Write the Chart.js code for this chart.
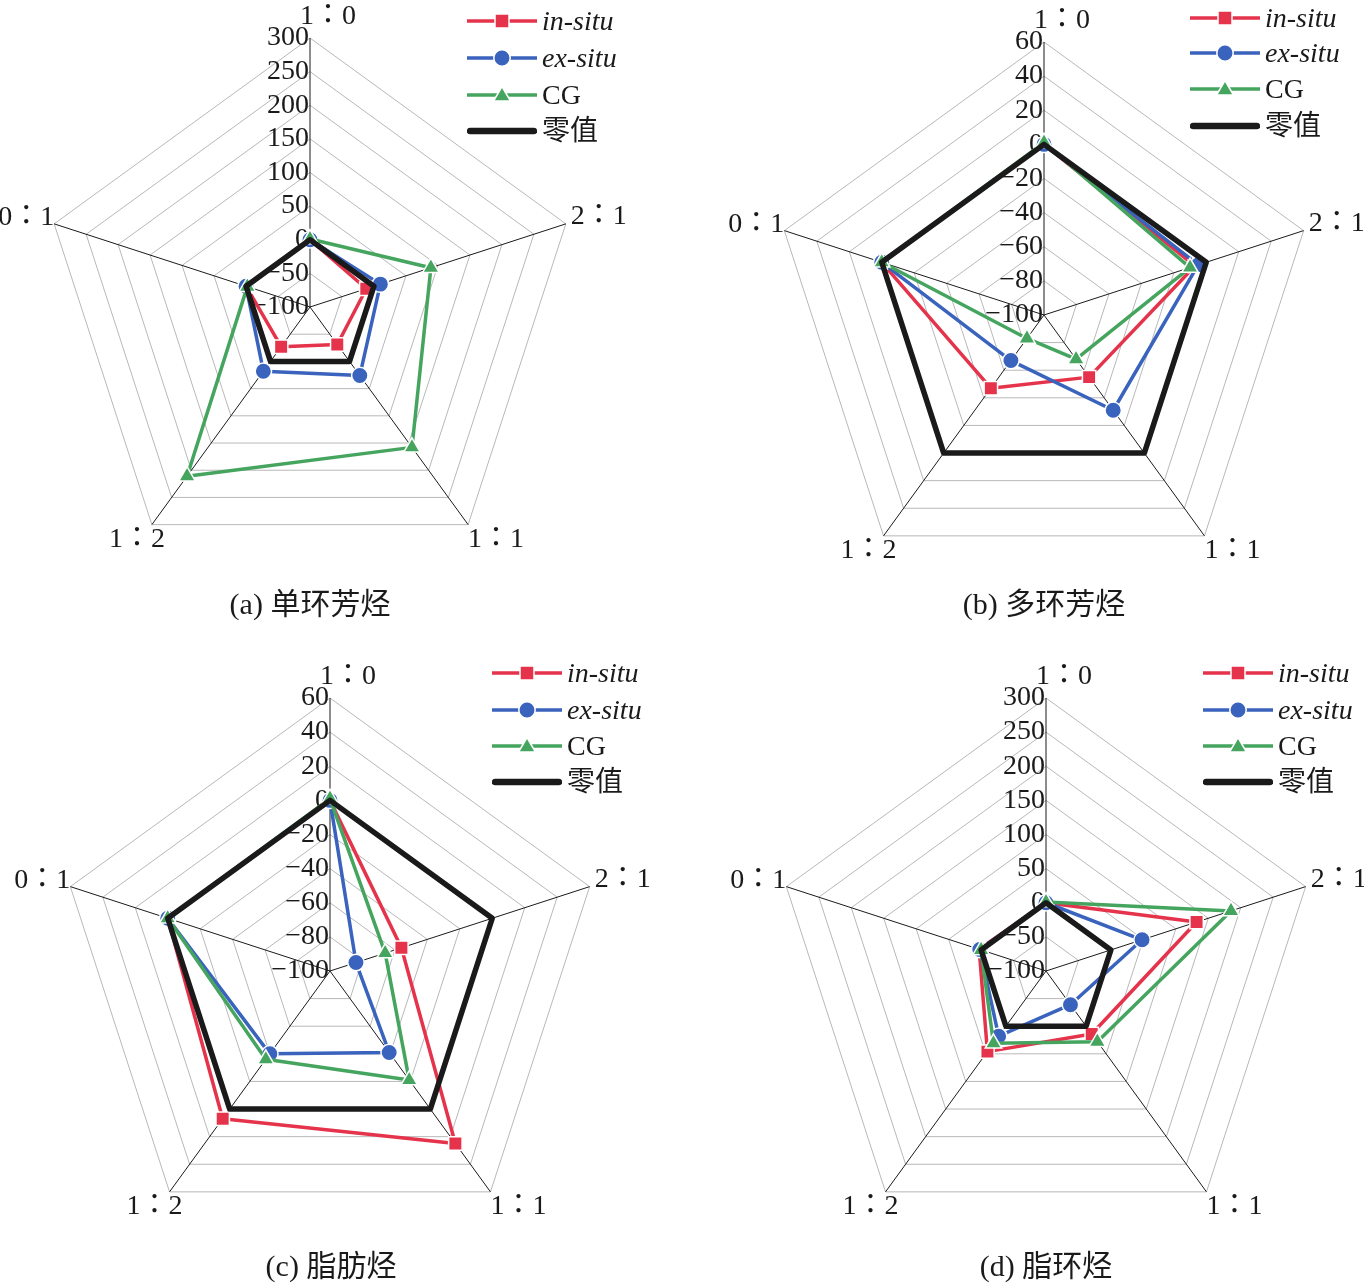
<!DOCTYPE html>
<html>
<head>
<meta charset="utf-8">
<script src="https://cdn.jsdelivr.net/npm/chart.js@4/dist/chart.umd.min.js"></script>
<style>
  html, body { margin:0; padding:0; background:#fff; }
  body { width:1364px; height:1284px; position:relative; overflow:hidden;
         font-family:'Liberation Serif','Noto Sans CJK SC',serif; color:#1a1a1a; }
  canvas.rc { position:absolute; }
  .leg { position:absolute; height:36px; line-height:36px; font-size:28px; white-space:nowrap; }
  .leg svg { position:absolute; left:0; top:8px; }
  .leg span { position:absolute; top:0; }
  .cap { position:absolute; font-size:30px; line-height:40px; white-space:nowrap; transform:translateX(-50%); }
</style>
</head>
<body>
<script>
// ---------- data ----------
const categories = ['1：0', '2：1', '1：1', '1：2', '0：1'];
const seriesNames = ['in-situ', 'ex-situ', 'CG', '零值'];
const captions = ['(a) 单环芳烃', '(b) 多环芳烃', '(c) 脂肪烃', '(d) 脂环烃'];

// (a) 单环芳烃
const aInSitu = [0, -12, -31, -27, 0];
const aExSitu = [0, 10, 26, 18, 0];
const aCG     = [1, 89, 158, 211, -2];
const aZero   = [0, 0, 0, 0, 0];
// (b) 多环芳烃
const bInSitu = [0, -7, -55, -47, 0];
const bExSitu = [0, -5, -31, -67, 0];
const bCG     = [1, -10, -68, -83, 0];
const bZero   = [0, 0, 0, 0, 0];
// (c) 脂肪烃
const cInSitu = [0, -56, 25, 7, 0];
const cExSitu = [0, -84, -41, -40, 0];
const cCG     = [1, -66, -21, -36, 0];
const cZero   = [0, 0, 0, 0, 0];
// (d) 脂环烃
const dInSitu = [0, 132, 14, 46, 3];
const dExSitu = [0, 48, -39, 18, 2];
const dCG     = [1, 185, 28, 31, 0];
const dZero   = [0, 0, 0, 0, 0];

// tick labels
const ticks300 = ['−100', '−50', '0', '50', '100', '150', '200', '250', '300'];
const ticks60  = ['−100', '−80', '−60', '−40', '−20', '0', '20', '40', '60'];
const range300 = [-100, 300, 50];
const range60  = [-100, 60, 20];

// ---------- styles / layout ----------
const RED = '#e5334b', BLUE = '#3a63be', GREEN = '#45a55f', BLACK = '#1a1a1a';
const FONT = '"Liberation Serif", "Noto Sans CJK SC", serif';
const LABEL_FONT = '"Liberation Serif", "Noto Sans CJK TC", serif';

const panels = [
  { left:0,   top:0,   pad:{left:41, top:38, right:103, bottom:66},
    data:[aInSitu, aExSitu, aCG, aZero], ticks:ticks300, range:range300,
    legX:467, legTextX:542, legY:[21, 58, 95, 131], capX:310, capY:584 },
  { left:682, top:0,   pad:{left:89, top:42, right:47, bottom:54},
    data:[bInSitu, bExSitu, bCG, bZero], ticks:ticks60, range:range60,
    legX:1190, legTextX:1265, legY:[18, 53, 89, 126], capX:1044, capY:584 },
  { left:0,   top:642, pad:{left:57, top:56, right:79, bottom:40},
    data:[cInSitu, cExSitu, cCG, cZero], ticks:ticks60, range:range60,
    legX:492, legTextX:567, legY:[673, 710, 746, 782], capX:331, capY:1246 },
  { left:682, top:642, pad:{left:91, top:56, right:45, bottom:40},
    data:[dInSitu, dExSitu, dCG, dZero], ticks:ticks300, range:range300,
    legX:1203, legTextX:1278, legY:[673, 710, 746, 782], capX:1046, capY:1246 }
];

const labelOffsets = [
  { align:'center', dx:18, dy:-21 },
  { align:'left',   dx:5,  dy:-7 },
  { align:'center', dx:28, dy:15 },
  { align:'center', dx:-15, dy:15 },
  { align:'right',  dx:0,  dy:-6 }
];

const tickPlugin = {
  id: 'tickText',
  beforeDatasetsDraw(chart, args, opts) {
    const s = chart.scales.r, ctx = chart.ctx;
    ctx.save();
    ctx.font = '28px ' + FONT;
    ctx.fillStyle = BLACK;
    ctx.textAlign = 'right';
    ctx.textBaseline = 'middle';
    s.ticks.forEach((t, i) => {
      const d = s.getDistanceFromCenterForValue(t.value);
      ctx.fillText(opts.labels[i] !== undefined ? opts.labels[i] : t.label, s.xCenter - 1, s.yCenter - d);
    });
    ctx.restore();
  },
  afterDraw(chart) {
    const s = chart.scales.r, ctx = chart.ctx;
    ctx.save();
    ctx.font = '28px ' + LABEL_FONT;
    ctx.fillStyle = BLACK;
    ctx.textBaseline = 'middle';
    chart.data.labels.forEach((c, i) => {
      const p = s.getPointPosition(i, s.drawingArea);
      const o = labelOffsets[i];
      ctx.textAlign = o.align;
      ctx.fillText(c, p.x + o.dx, p.y + o.dy);
    });
    ctx.restore();
  }
};

function dataset(name, values, kind) {
  const base = { label:name, data:values, fill:false, tension:0, borderJoinStyle:'round',
                 pointBorderColor:'#ffffff', pointBorderWidth:1.5, pointHoverRadius:8 };
  if (kind === 0) return Object.assign(base, { borderColor:RED, backgroundColor:RED, pointBackgroundColor:RED, borderWidth:3.5, pointStyle:'rect', pointRadius:9.5, order:3 });
  if (kind === 1) return Object.assign(base, { borderColor:BLUE, backgroundColor:BLUE, pointBackgroundColor:BLUE, borderWidth:3.5, pointStyle:'circle', pointRadius:8.2, order:2 });
  if (kind === 2) return Object.assign(base, { borderColor:GREEN, backgroundColor:GREEN, pointBackgroundColor:GREEN, borderWidth:3.5, pointStyle:'triangle', pointRadius:9.5, order:1 });
  return Object.assign(base, { borderColor:BLACK, backgroundColor:BLACK, borderWidth:5.5, pointRadius:0, pointHoverRadius:0, order:0 });
}

function legendSymbol(kind) {
  const col = [RED, BLUE, GREEN, BLACK][kind];
  let s = '<svg width="70" height="20" viewBox="0 0 70 20">';
  if (kind === 3) {
    s += '<line x1="3" y1="10" x2="67" y2="10" stroke="' + col + '" stroke-width="6.5" stroke-linecap="round"/>';
  } else {
    s += '<line x1="0" y1="10" x2="70" y2="10" stroke="' + col + '" stroke-width="3.5"/>';
    if (kind === 0) s += '<rect x="28" y="3" width="14" height="14" fill="' + col + '" stroke="#fff" stroke-width="1.5"/>';
    if (kind === 1) s += '<circle cx="35" cy="10" r="8.2" fill="' + col + '" stroke="#fff" stroke-width="1.5"/>';
    if (kind === 2) s += '<polygon points="35,1.5 43.5,16 26.5,16" fill="' + col + '" stroke="#fff" stroke-width="1.5"/>';
  }
  return s + '</svg>';
}

panels.forEach((p, pi) => {
  const cv = document.createElement('canvas');
  cv.className = 'rc';
  cv.width = 682; cv.height = 642;
  cv.style.left = p.left + 'px'; cv.style.top = p.top + 'px';
  cv.style.width = '682px'; cv.style.height = '642px';
  document.body.appendChild(cv);

  new Chart(cv, {
    type: 'radar',
    data: {
      labels: categories,
      datasets: p.data.map((vals, k) => dataset(seriesNames[k], vals, k))
    },
    options: {
      responsive: false,
      animation: false,
      devicePixelRatio: 1,
      layout: { padding: p.pad },
      plugins: { legend: { display:false }, tooltip: { enabled:false }, title: { display:false },
                 tickText: { labels: p.ticks } },
      scales: {
        r: {
          min: p.range[0], max: p.range[1],
          startAngle: 0,
          ticks: { display:false, stepSize: p.range[2] },
          grid: { color:'#b8b8b8', lineWidth:1, circular:false },
          angleLines: { color:'#1a1a1a', lineWidth:1 },
          pointLabels: { display:false }
        }
      }
    },
    plugins: [tickPlugin]
  });

  seriesNames.forEach((nm, k) => {
    const d = document.createElement('div');
    d.className = 'leg';
    d.style.left = p.legX + 'px';
    d.style.top = (p.legY[k] - 18) + 'px';
    const italic = k < 2 ? 'font-style:italic;' : '';
    d.innerHTML = legendSymbol(k) + '<span style="left:' + (p.legTextX - p.legX) + 'px;' + italic + '">' + nm + '</span>';
    document.body.appendChild(d);
  });

  const c = document.createElement('div');
  c.className = 'cap';
  c.style.left = p.capX + 'px';
  c.style.top = p.capY + 'px';
  c.textContent = captions[pi];
  document.body.appendChild(c);
});
</script>
</body>
</html>
